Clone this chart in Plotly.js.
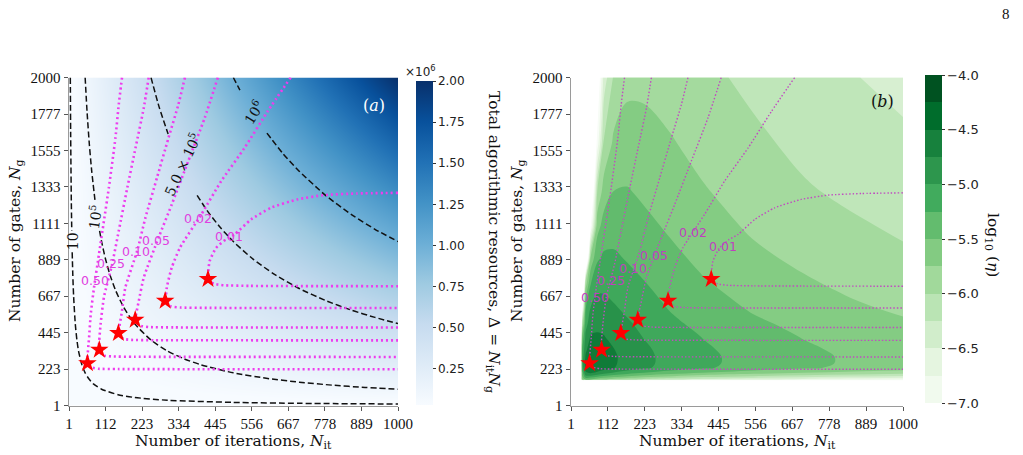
<!DOCTYPE html>
<html><head><meta charset="utf-8">
<script src="https://cdn.plot.ly/plotly-3.0.1.min.js"></script>
<style>html,body{margin:0;padding:0;background:#fff}#chart{width:1023px;height:455px}</style>
</head><body><div id="chart"></div>
<script>
// ---------- tick labels ----------
const itTicks = [1,112,223,334,445,556,667,778,889,1000];
const gTicks  = [1,223,445,667,889,1111,1333,1555,1777,2000];
const cbATickVals = [250000,500000,750000,1000000,1250000,1500000,1750000,2000000];
const cbATickText = ['0.25','0.50','0.75','1.00','1.25','1.50','1.75','2.00'];
const cbBTickVals = [-7,-6.5,-6,-5.5,-5,-4.5,-4];
const cbBTickText = ['\u22127.0','\u22126.5','\u22126.0','\u22125.5','\u22125.0','\u22124.5','\u22124.0'];

// ---------- panel (a): total resources Δ = N_it N_g ----------
const deltaIt = [1,334,667,1000];
const deltaG  = [1,667,1333,2000];
const deltaZ  = [[1,334,667,1000],[667,222778,444889,667000],[1333,445222,889111,1333000],[2000,668000,1334000,2000000]];

// dashed iso-resource curves (gaps where the inline labels sit)
const iso1e4It = [5,6,8,9.4,null,10.7,12.5,15,20,25,30,40,50,60,75,100,150,200,300,500,700,1000];
const iso1e4G  = [2000,1667,1250,1064,null,935,800,667,500,400,333,250,200,167,133,100,67,50,33,20,14.3,10];
const iso1e5It = [50,56,63,70,80.6,null,93.9,100,111,125,143,167,200,250,300,350,400,500,600,700,800,900,1000];
const iso1e5G  = [2000,1786,1587,1429,1240,null,1065,1000,900,800,700,600,500,400,333,286,250,200,167,143,125,111,100];
const iso5e5It = [250,275,302,null,390,420,460,500,560,625,700,780,860,930,1000];
const iso5e5G  = [2000,1818,1656,null,1282,1190,1087,1000,893,800,714,641,581,538,500];
const iso1e6It = [500,520,null,602,650,700,780,860,930,1000];
const iso1e6G  = [2000,1923,null,1661,1538,1429,1282,1163,1075,1000];
const isoLabels = ['10','10<sup>5</sup>','5.0 \u00d7 10<sup>5</sup>','10<sup>6</sup>'];
const isoLabelIt = [12.2,78,346,561];
const isoLabelG  = [1000,1152,1470,1792];

// error contours (dotted magenta)
const eps050It = [162,152,142,122,107,92,77,67,62,57,63,72,90,150,1000];
const eps050G  = [2000,1834,1632,1328,1125,923,720,558,416,261,245,232,225,223,222];
const eps025It = [243,228,203,178,152,132,107,97,92,98,108,130,200,1000];
const eps025G  = [2000,1814,1571,1328,1064,862,660,498,340,318,305,300,298,297];
const eps010It = [353,333,303,268,233,208,172,162,152,158,168,190,260,1000];
const eps010G  = [2000,1834,1631,1388,1145,943,720,578,441,418,406,401,399,398];
const eps005It = [453,413,363,313,273,228,213,203,209,220,245,320,1000];
const eps005G  = [2000,1753,1490,1226,1024,781,639,528,500,486,479,477,476];
const eps002It = [674,604,534,463,403,338,313,298,295,301,312,340,420,1000];
const eps002G  = [2000,1793,1571,1368,1166,963,842,720,643,618,604,598,596,595];
const eps001It = [1000,875,774,694,614,554,504,475,447,428,423,430,442,470,550,1000];
const eps001G  = [1297,1293,1283,1257,1206,1135,1044,1010,960,880,777,755,742,734,730,728];
const epsLabels = ['0.50','0.25','0.10','0.05','0.02','0.01'];
const epsLabelAIt = [80,130,204,265,392,488];
const epsLabelAG  = [765,865,937,1008,1140,1032];
const epsLabelBIt = [74,120,188,251,368,458];
const epsLabelBG  = [662,765,838,918,1054,973];

// optimal points (red stars)
const starIt = [57,93,151,202,293,423];
const starG  = [258,340,442,523,639,772];

// ---------- panel (b): log10(eta) read on a grid ----------
const etaIt = [1,25,35,45,60,80,100,130,170,220,300,400,550,700,850,1000];
const etaG  = [1,140,160,180,200,230,260,300,350,420,500,600,750,900,1100,1300,1600,2000];
const etaZ = [
 [-12,-12,-12,-12,-12,-12,-12,-12,-12,-12,-12,-12,-12,-12,-12,-12],
 [-12,-12,-10.75,-11.6,-11.5,-11.1,-10.8,-10.5,-10.2,-9.8,-9.4,-9.0,-8.6,-8.3,-8.05,-7.84],
 [-12,-8.9,-5.75,-5.46,-5.50,-5.63,-5.72,-5.84,-5.95,-6.07,-6.20,-6.33,-6.46,-6.57,-6.65,-6.72],
 [-12,-9.25,-5.50,-5.06,-5.05,-5.16,-5.26,-5.37,-5.49,-5.60,-5.73,-5.86,-6.00,-6.10,-6.18,-6.26],
 [-12,-9.45,-5.37,-4.78,-4.72,-4.81,-4.90,-5.02,-5.13,-5.25,-5.38,-5.51,-5.64,-5.75,-5.83,-5.90],
 [-12,-9.8,-5.13,-4.67,-4.52,-4.55,-4.63,-4.74,-4.85,-4.96,-5.10,-5.22,-5.36,-5.47,-5.55,-5.62],
 [-12,-9.9,-5.07,-4.64,-4.48,-4.54,-4.62,-4.72,-4.84,-4.94,-5.08,-5.20,-5.34,-5.45,-5.53,-5.60],
 [-12,-9.76,-5.16,-4.72,-4.55,-4.59,-4.63,-4.72,-4.83,-4.94,-5.08,-5.20,-5.34,-5.45,-5.53,-5.60],
 [-12,-9.63,-5.25,-4.82,-4.62,-4.63,-4.66,-4.75,-4.86,-4.96,-5.10,-5.22,-5.36,-5.47,-5.55,-5.62],
 [-12,-10.57,-5.47,-4.94,-4.73,-4.72,-4.74,-4.82,-4.90,-5.01,-5.14,-5.26,-5.40,-5.51,-5.59,-5.66],
 [-12,-12,-6.04,-5.10,-4.86,-4.81,-4.82,-4.89,-4.97,-5.06,-5.20,-5.32,-5.46,-5.56,-5.65,-5.72],
 [-12,-12,-7.1,-5.27,-5.00,-4.92,-4.92,-4.98,-5.05,-5.14,-5.27,-5.39,-5.53,-5.63,-5.72,-5.79],
 [-12,-12,-9.5,-5.92,-5.27,-5.07,-5.07,-5.10,-5.16,-5.24,-5.36,-5.48,-5.62,-5.72,-5.81,-5.88],
 [-12,-12,-12,-8.13,-5.71,-5.29,-5.21,-5.21,-5.27,-5.33,-5.44,-5.56,-5.70,-5.80,-5.89,-5.96],
 [-12,-12,-12,-12,-7.07,-5.61,-5.40,-5.36,-5.38,-5.44,-5.54,-5.65,-5.79,-5.89,-5.97,-6.04],
 [-12,-12,-12,-12,-7.83,-5.98,-5.63,-5.49,-5.48,-5.54,-5.62,-5.73,-5.86,-5.97,-6.05,-6.12],
 [-12,-12,-12,-12,-7.81,-6.91,-5.96,-5.70,-5.65,-5.66,-5.73,-5.83,-5.95,-6.06,-6.14,-6.21],
 [-12,-12,-12,-12,-12,-7.41,-6.39,-5.96,-5.81,-5.81,-5.86,-5.94,-6.06,-6.16,-6.24,-6.31]
];

// ---------- styles ----------
const blues = [[0,'#f7fbff'],[0.125,'#deebf7'],[0.25,'#c6dbef'],[0.375,'#9ecae1'],[0.5,'#6baed6'],[0.625,'#4292c6'],[0.75,'#2171b5'],[0.875,'#08519c'],[1,'#08306b']];
const greenBands = ['rgb(241,250,238)','rgb(229,245,224)','rgb(209,237,203)','rgb(186,228,180)','rgb(161,217,155)','rgb(131,203,130)','rgb(99,188,110)','rgb(65,171,93)','rgb(45,150,77)','rgb(23,129,61)','rgb(0,109,44)','rgb(0,82,33)'];
const greenFill = [[0,'#ffffff']].concat(greenBands.map((c,i)=>[(i+1)/13,c])).concat([[1,greenBands[11]]]);
const greenSteps = [];
greenBands.forEach((c,i)=>{greenSteps.push([i/12,c]);greenSteps.push([(i+1)/12,c]);});

const SERIF = 'DejaVu Serif';
const NUMF = 'Liberation Serif';
const SANS = 'DejaVu Sans';
const magA = '#ee3cee', magB = '#c04cc0';

const epsIt = [eps050It,eps025It,eps010It,eps005It,eps002It,eps001It];
const epsG  = [eps050G,eps025G,eps010G,eps005G,eps002G,eps001G];

const traces = [];
traces.push({type:'heatmap', x:deltaIt, y:deltaG, z:deltaZ, zsmooth:'best', colorscale:blues,
  zmin:30000, zmax:2000000, hoverinfo:'skip', xaxis:'x', yaxis:'y',
  colorbar:{x:416/1023, xanchor:'left', xpad:0, ypad:0, y:1-243/455, yanchor:'middle', len:324, lenmode:'pixels',
    thickness:17, thicknessmode:'pixels', outlinewidth:0, ticks:'outside', ticklen:3, tickcolor:'#333',
    tickmode:'array', tickvals:cbATickVals, ticktext:cbATickText, tickfont:{family:SANS,size:12,color:'#222'}}});
[[iso1e4It,iso1e4G],[iso1e5It,iso1e5G],[iso5e5It,iso5e5G],[iso1e6It,iso1e6G]].forEach(p=>{
  traces.push({type:'scatter', mode:'lines', x:p[0], y:p[1], xaxis:'x', yaxis:'y', connectgaps:false,
    line:{color:'#111', width:1.5, dash:'6px,3px', shape:'spline', smoothing:0.6}, hoverinfo:'skip'});
});
epsIt.forEach((xs,i)=>{
  traces.push({type:'scatter', mode:'lines', x:xs, y:epsG[i], xaxis:'x', yaxis:'y',
    line:{color:magA, width:2.6, dash:'2px,3px', shape:'spline', smoothing:0.5}, hoverinfo:'skip'});
});
traces.push({type:'scatter', mode:'markers', x:starIt, y:starG, xaxis:'x', yaxis:'y',
  marker:{symbol:'star', size:14, color:'#ff0000', line:{width:0}}, hoverinfo:'skip'});

traces.push({type:'contour', x:etaIt, y:etaG, z:etaZ, xaxis:'x2', yaxis:'y2', autocontour:false,
  contours:{start:-7, end:-4, size:0.25, coloring:'fill', showlines:false},
  line:{width:0, smoothing:1}, zauto:false, zmin:-7, zmax:-4, colorscale:greenFill, showscale:false, hoverinfo:'skip'});
epsIt.forEach((xs,i)=>{
  traces.push({type:'scatter', mode:'lines', x:xs, y:epsG[i], xaxis:'x2', yaxis:'y2',
    line:{color:magB, width:1.4, dash:'1.5px,2px', shape:'spline', smoothing:0.5}, hoverinfo:'skip'});
});
traces.push({type:'scatter', mode:'markers', x:starIt, y:starG, xaxis:'x2', yaxis:'y2',
  marker:{symbol:'star', size:14, color:'#ff0000', line:{width:0}}, hoverinfo:'skip'});
traces.push({type:'scatter', mode:'markers', x:[-500,-500], y:[-500,-500], xaxis:'x2', yaxis:'y2', hoverinfo:'skip',
  marker:{color:[-7,-4], cmin:-7, cmax:-4, colorscale:greenSteps, showscale:true, size:2,
    colorbar:{x:925/1023, xanchor:'left', xpad:0, ypad:0, y:1-239/455, yanchor:'middle', len:328, lenmode:'pixels',
      thickness:17, thicknessmode:'pixels', outlinewidth:0, ticks:'outside', ticklen:3, tickcolor:'#333',
      tickmode:'array', tickvals:cbBTickVals, ticktext:cbBTickText, tickfont:{family:SANS,size:13,color:'#222'}}}});

function axis(dom, rng, ticks, anchor){
  return {domain:dom, range:rng, tickmode:'array', tickvals:ticks, ticktext:ticks.map(String), ticks:'outside',
    ticklen:4, tickwidth:1, tickcolor:'#555', showline:true, linecolor:'#9a9a9a', linewidth:1.5, showgrid:false,
    zeroline:false, anchor:anchor, tickfont:{family:NUMF, size:15, color:'#111'}, fixedrange:true};
}
const yDom = [1-405.5/455, 1-77.5/455];
const layout = {
  width:1023, height:455, margin:{l:0,r:0,t:0,b:0}, paper_bgcolor:'#fff', plot_bgcolor:'#fff', showlegend:false,
  xaxis: axis([69/1023, 398/1023], [1,1000], itTicks, 'y'),
  yaxis: axis(yDom, [1,2000], gTicks, 'x'),
  xaxis2: axis([571/1023, 903/1023], [1,1000], itTicks, 'y2'),
  yaxis2: axis(yDom, [1,2000], gTicks, 'x2'),
  annotations: []
};
const A = layout.annotations;
function pa(x,y,text,font,extra){A.push(Object.assign({xref:'paper',yref:'paper',x:x/1023,y:1-y/455,text:text,showarrow:false,font:font,xanchor:'center',yanchor:'middle'},extra||{}));}
const titleFont = {family:SERIF,size:15.5,color:'#111'};
pa(233,442,'Number of iterations, <i>N</i><sub>it</sub>',titleFont);
pa(737,442,'Number of iterations, <i>N</i><sub>it</sub>',titleFont);
pa(16,241,'Number of gates, <i>N</i><sub>g</sub>',titleFont,{textangle:-90});
pa(518,241,'Number of gates, <i>N</i><sub>g</sub>',titleFont,{textangle:-90});
pa(493,242,'Total algorithmic resources, \u0394 = <i>N</i><sub>it</sub><i>N</i><sub>g</sub>',titleFont,{textangle:90});
pa(992,245,'log<sub>10</sub> (<i>\u03b7</i>)',titleFont,{textangle:90});
pa(420,71,'\u00d710<sup>6</sup>',{family:SANS,size:12,color:'#222'});
pa(374,105,'(<i>a</i>)',{family:SERIF,size:16,color:'#ffffff'});
pa(882,102,'(<i>b</i>)',{family:SERIF,size:16,color:'#111'});
pa(1006,14,'8',{family:NUMF,size:15,color:'#111'});
const isoAngles = [-90,-82,-65,-58];
isoLabels.forEach((t,i)=>A.push({xref:'x',yref:'y',x:isoLabelIt[i],y:isoLabelG[i],text:t,showarrow:false,
  textangle:isoAngles[i],font:{family:SERIF,size:14,color:'#111'}}));
epsLabels.forEach((t,i)=>{
  A.push({xref:'x',yref:'y',x:epsLabelAIt[i],y:epsLabelAG[i],text:t,showarrow:false,font:{family:SANS,size:12.5,color:'#e040e0'}});
  A.push({xref:'x2',yref:'y2',x:epsLabelBIt[i],y:epsLabelBG[i],text:t,showarrow:false,font:{family:SANS,size:12.5,color:'#bf40bf'}});
});

Plotly.newPlot('chart', traces, layout, {staticPlot:true, displayModeBar:false});
</script></body></html>
